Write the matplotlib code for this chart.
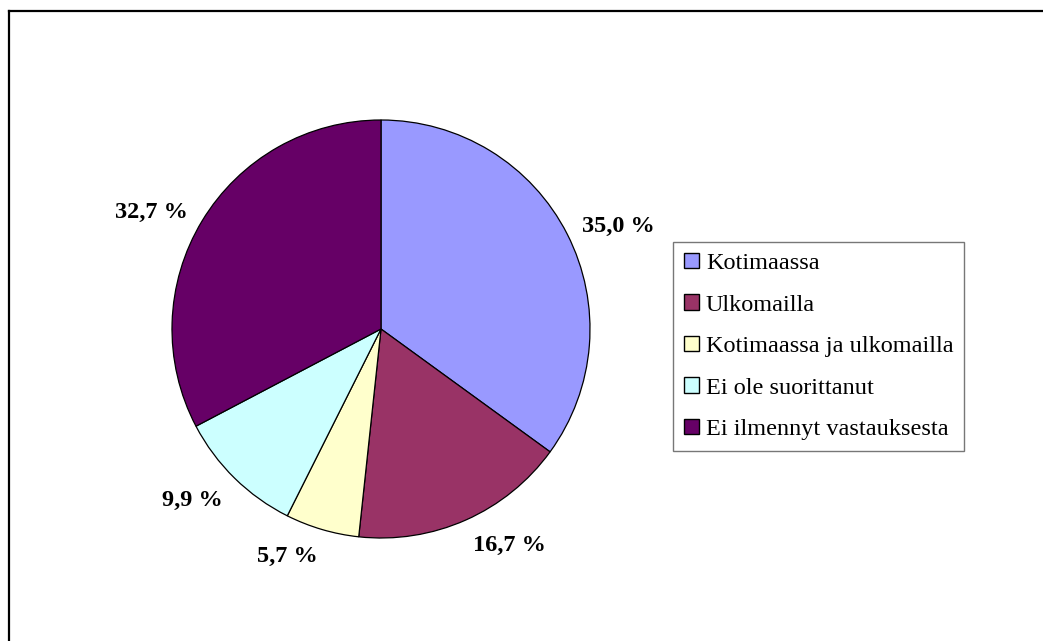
import matplotlib
matplotlib.use("Agg")
import numpy as np
import matplotlib.pyplot as plt
import matplotlib.patches as patches
from matplotlib.lines import Line2D

# data
categories = [
    "Kotimaassa",
    "Ulkomailla",
    "Kotimaassa ja ulkomailla",
    "Ei ole suorittanut",
    "Ei ilmennyt vastauksesta",
]
shares = [35.0, 16.7, 5.7, 9.9, 32.7]
colors = ["#9999FF", "#993366", "#FFFFCC", "#CCFFFF", "#660066"]

plt.rcParams["font.family"] = ["Liberation Serif", "DejaVu Serif"]

W, H = 1043, 641
fig = plt.figure(figsize=(W / 100, H / 100), dpi=100)
fig.patch.set_facecolor("white")

# pie centre and radius in pixels
cx, cy, r = 381, 329, 209
ax = fig.add_axes([(cx - r) / W, (H - cy - r) / H, 2 * r / W, 2 * r / H])

wedges, texts, autotexts = ax.pie(
    shares,
    colors=colors,
    startangle=90,
    counterclock=False,
    radius=1.0,
    wedgeprops=dict(edgecolor="black", linewidth=0.9),
    autopct=lambda p: f"{p:.1f} %".replace(".", ","),
    pctdistance=1.2,
    textprops=dict(fontsize=17.5, fontweight="bold", color="black"),
)
ax.set_xlim(-1, 1)
ax.set_ylim(-1, 1)
ax.set_aspect("equal")
ax.axis("off")

# excel-like label placement: anchor the text box just outside the rim
for w, t in zip(wedges, autotexts):
    ang = np.deg2rad((w.theta1 + w.theta2) / 2)
    c, s = np.cos(ang), np.sin(ang)
    t.set_position((1.08 * c, 1.08 * s))
    t.set_ha("left" if c > 0 else "right")
    if abs(s) < 0.6:
        t.set_va("center")
    else:
        t.set_va("bottom" if s > 0 else "top")
    t.set_clip_on(False)

# legend
handles = [
    patches.Patch(facecolor=c, edgecolor="black", linewidth=1.0) for c in colors
]
leg = fig.legend(
    handles,
    categories,
    loc="upper left",
    bbox_to_anchor=(673 / W, 1 - 242 / H),
    fontsize=17.5,
    frameon=True,
    fancybox=False,
    shadow=False,
    handlelength=0.6,
    handleheight=0.6,
    handletextpad=0.3,
    labelspacing=0.83,
    borderpad=0.45,
    borderaxespad=0.0,
)
leg.get_frame().set_edgecolor("#555555")
leg.get_frame().set_linewidth(1.0)

# outer chart frame (top and left edges visible)
fig.add_artist(Line2D([9 / W, 1.0], [1 - 11 / H, 1 - 11 / H],
                      transform=fig.transFigure, color="black", linewidth=1.6))
fig.add_artist(Line2D([9 / W, 9 / W], [0.0, 1 - 11 / H],
                      transform=fig.transFigure, color="black", linewidth=1.6))

fig.savefig("out.png", dpi=100, facecolor="white")
